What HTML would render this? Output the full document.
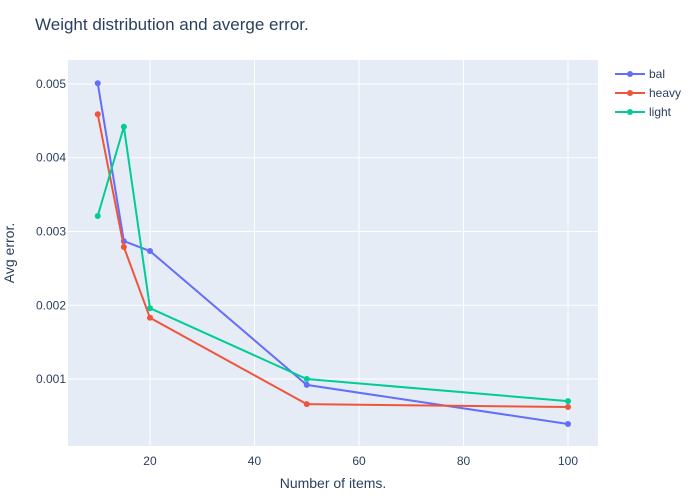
<!DOCTYPE html>
<html><head><meta charset="utf-8"><style>
html,body{margin:0;padding:0;background:#fff;font-family:"Liberation Sans",sans-serif;overflow:hidden;}
svg{display:block;}
svg text{font-family:"Liberation Sans",sans-serif;}
</style></head><body>
<svg id="c" width="700" height="500">
<text x="35" y="30" font-size="17" fill="#2a3f5f">Weight distribution and averge error.</text>
<rect x="68" y="60" width="530" height="386" fill="#e5ecf6"/>
<g id="grid"></g><g id="series"></g><g id="legend"></g>
<text x="333" y="488" font-size="14" fill="#2a3f5f" text-anchor="middle">Number of items.</text>
<text transform="translate(14,253) rotate(-90)" font-size="14" fill="#2a3f5f" text-anchor="middle">Avg error.</text>
</svg>
<script>
const categories=[10,15,20,50,100];
const seriesNames=["bal","heavy","light"];
const balValues=[0.00501,0.00287,0.002735,0.00092,0.00039];
const heavyValues=[0.00459,0.00279,0.00183,0.00066,0.00062];
const lightValues=[0.00321,0.00442,0.00196,0.00100,0.00070];
const xTicks=[20,40,60,80,100];
const yTicks=[0.001,0.002,0.003,0.004,0.005];
const colors=["#636efa","#ef553b","#00cc96"];
const NS="http://www.w3.org/2000/svg";
const X0=4.31,X1=105.74,Y0=0.000092,Y1=0.005325;
const L=68,R=598,T=60,B=446;
function xs(v){return L+(v-X0)/(X1-X0)*(R-L);}
function ys(v){return B-(v-Y0)/(Y1-Y0)*(B-T);}
function mk(tag,a,p){const e=document.createElementNS(NS,tag);for(const k in a)e.setAttribute(k,a[k]);p.appendChild(e);return e;}
const g=document.getElementById('grid');
xTicks.forEach(t=>{
 const l=mk('line',{x1:xs(t),x2:xs(t),y1:T,y2:B,stroke:'#fff','stroke-width':1},g);
 
 
 const tx=mk('text',{x:xs(t),y:B+19,'font-size':12,fill:'#2a3f5f','text-anchor':'middle'},g);
 tx.textContent=t;
 
 
});
yTicks.forEach(t=>{
 const l=mk('line',{x1:L,x2:R,y1:ys(t),y2:ys(t),stroke:'#fff','stroke-width':1},g);
 
 
 const tx=mk('text',{x:L-2,y:ys(t)+4,'font-size':12,fill:'#2a3f5f','text-anchor':'end'},g);
 tx.textContent=t.toFixed(3);
 
 
});
const s=document.getElementById('series');
const lg=document.getElementById('legend');
[balValues,heavyValues,lightValues].forEach((vals,i)=>{
 const pts=vals.map((v,j)=>xs(categories[j])+','+ys(v)).join(' ');
 const pl=mk('polyline',{points:pts,fill:'none',stroke:colors[i],'stroke-width':2},s);
 
 
 vals.forEach((v,j)=>{
  const c=mk('circle',{cx:xs(categories[j]),cy:ys(v),r:3,fill:colors[i]},s);
  
  
 });
 const y=74+i*19;
 const ge=mk('g',{},lg);
 
 
 mk('line',{x1:615,x2:645,y1:y,y2:y,stroke:colors[i],'stroke-width':2},ge);
 mk('circle',{cx:630,cy:y,r:3,fill:colors[i]},ge);
 const t=mk('text',{x:649,y:y+4,'font-size':12,fill:'#2a3f5f'},ge);
 t.textContent=seriesNames[i];
});
</script>
</body></html>
